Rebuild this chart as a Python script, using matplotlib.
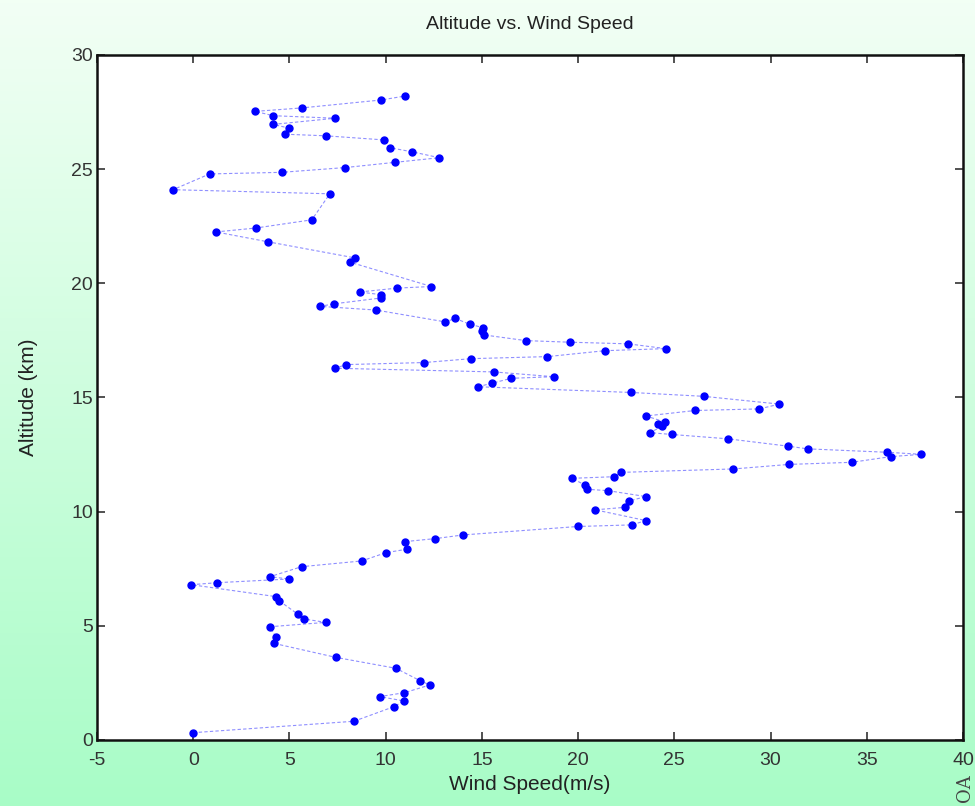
import numpy as np
import matplotlib
matplotlib.use("Agg")
import matplotlib.pyplot as plt

wind_speed = [0.0, 8.35, 10.43, 10.95, 9.69, 10.97, 12.3, 11.78, 10.53, 7.4,
              4.2, 4.29, 3.98, 6.89, 5.76, 5.45, 4.46, 4.29, -0.1, 1.26,
              5.0, 3.98, 5.63, 8.75, 10.0, 11.13, 11.03, 12.58, 14.02, 19.99,
              22.79, 23.52, 20.89, 22.44, 22.65, 23.52, 21.55, 20.46, 20.34, 19.69,
              21.85, 22.24, 28.07, 30.98, 34.21, 36.25, 37.84, 36.07, 31.93, 30.89,
              27.78, 24.87, 23.72, 24.36, 24.15, 24.53, 23.53, 26.08, 29.42, 30.46,
              26.53, 22.75, 14.8, 15.5, 16.53, 18.73, 15.61, 7.37, 7.95, 11.99,
              14.45, 18.4, 21.41, 24.56, 22.59, 19.59, 17.29, 15.1, 15.0, 15.05,
              14.36, 13.62, 13.1, 9.49, 6.59, 7.3, 9.78, 9.78, 8.64, 10.6,
              12.38, 8.13, 8.42, 3.87, 1.18, 3.24, 6.16, 7.1, -1.05, 0.85,
              4.59, 7.91, 10.51, 12.79, 11.37, 10.2, 9.91, 6.88, 4.76, 5.0,
              4.16, 7.39, 4.16, 3.22, 5.63, 9.78, 10.99]
altitude = [0.32, 0.82, 1.46, 1.71, 1.90, 2.07, 2.41, 2.60, 3.14, 3.62,
            4.23, 4.52, 4.96, 5.15, 5.3, 5.5, 6.1, 6.28, 6.8, 6.89,
            7.05, 7.15, 7.59, 7.84, 8.2, 8.36, 8.69, 8.82, 8.98, 9.35,
            9.42, 9.61, 10.08, 10.19, 10.47, 10.66, 10.92, 10.98, 11.17, 11.46,
            11.53, 11.72, 11.87, 12.07, 12.16, 12.41, 12.51, 12.6, 12.75, 12.87,
            13.19, 13.38, 13.46, 13.73, 13.83, 13.92, 14.19, 14.43, 14.5, 14.71,
            15.05, 15.22, 15.47, 15.62, 15.84, 15.91, 16.12, 16.28, 16.44, 16.53,
            16.7, 16.79, 17.05, 17.14, 17.35, 17.42, 17.49, 17.74, 17.92, 18.06,
            18.21, 18.46, 18.31, 18.83, 18.99, 19.1, 19.36, 19.5, 19.62, 19.79,
            19.86, 20.93, 21.11, 21.82, 22.25, 22.42, 22.78, 23.92, 24.1, 24.79,
            24.86, 25.07, 25.3, 25.5, 25.76, 25.94, 26.28, 26.46, 26.53, 26.79,
            26.96, 27.23, 27.34, 27.53, 27.68, 28.03, 28.2]

x_ticks = [-5, 0, 5, 10, 15, 20, 25, 30, 35, 40]
y_ticks = [0, 5, 10, 15, 20, 25, 30]

plt.rcParams['font.family'] = ['Liberation Sans Narrow', 'Liberation Sans', 'DejaVu Sans']
plt.rcParams['axes.unicode_minus'] = False

fig = plt.figure(figsize=(9.75, 8.06), dpi=100)

# green slide background, lighter at the top
bg = fig.add_axes([0, 0, 1, 1], zorder=-10)
top_col = np.array([0.95, 1.0, 0.96])
bot_col = np.array([0.66, 0.99, 0.78])
t = np.linspace(0, 1, 256)[:, None]
grad = top_col * (1 - t) + bot_col * t
bg.imshow(grad[:, None, :], aspect='auto', extent=[0, 1, 0, 1])
bg.axis('off')

ax = fig.add_axes([0.0995, 0.0819, 0.8882, 0.8499])
ax.plot(wind_speed, altitude, linestyle='--', color='#3333ff', linewidth=0.8,
        alpha=0.55, dashes=(3, 2))
ax.plot(wind_speed, altitude, linestyle='none', marker='o', markersize=5,
        color='#0000ff')

ax.set_xlim(-5, 40)
ax.set_ylim(0, 30)
ax.set_xticks(x_ticks)
ax.set_yticks(y_ticks)
ax.tick_params(direction='in', top=True, right=True, length=6, width=1.2,
               labelsize=14, colors='#333333')
ax.tick_params(axis='x', pad=9)
ax.tick_params(axis='y', pad=3)
for s in ax.spines.values():
    s.set_linewidth(1.8)
    s.set_color('#111111')

ax.set_title('Altitude vs. Wind Speed', fontsize=14, color='#222222', pad=19)
ax.set_xlabel('Wind Speed(m/s)', fontsize=15, color='#222222', labelpad=4)
ax.set_ylabel('Altitude (km)', fontsize=15, color='#222222', labelpad=24)

# small logo text at the bottom-right edge of the slide
fig.text(0.99, 0.022, 'OA', rotation=90, fontsize=13, family='DejaVu Serif',
         color='#444444', ha='center', va='center')

fig.savefig('out.png', dpi=100)
